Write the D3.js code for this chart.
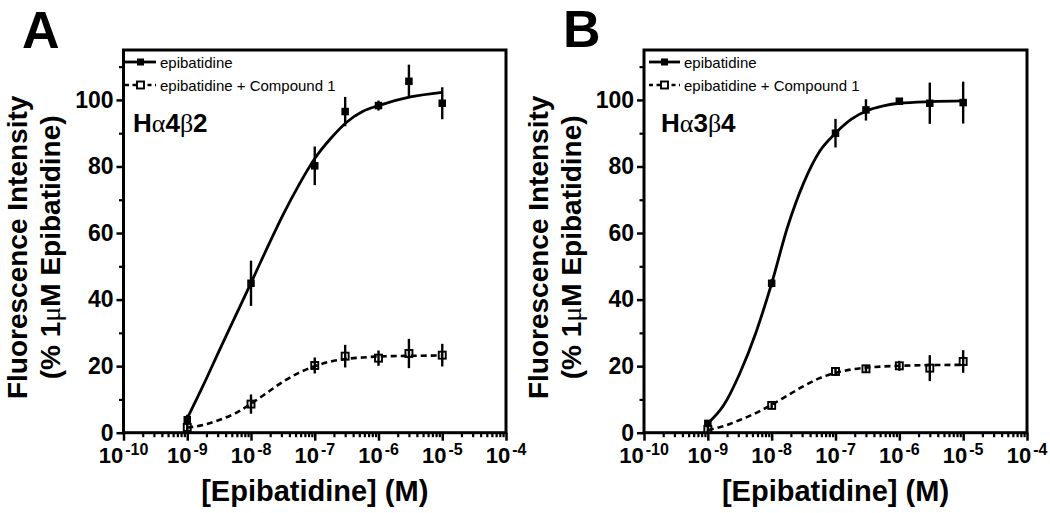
<!DOCTYPE html>
<html>
<head>
<meta charset="utf-8">
<script src="https://cdn.jsdelivr.net/npm/d3@7"></script>
<style>
  html, body { margin: 0; padding: 0; background: #fff; }
  svg { display: block; font-family: "Liberation Sans", Arial, sans-serif; }
</style>
</head>
<body>
<svg id="chart" width="1050" height="513"></svg>
<script>
// ---------------- DATA ----------------
const concentrations = [1e-9, 1e-8, 1e-7, 3e-7, 1e-6, 3e-6, 1e-5];

// Panel A (Hα4β2)
const aEpiMean = [3.9, 44.9, 80.2, 96.5, 98.3, 105.6, 99.0];
const aEpiErr  = [1.5, 6.8, 5.8, 4.4, 1.5, 5.0, 4.8];
const aCmpMean = [1.6, 8.6, 20.2, 23.0, 22.4, 23.8, 23.3];
const aCmpErr  = [1.0, 2.9, 2.4, 3.4, 2.3, 4.4, 3.4];

// Panel B (Hα3β4)
const bEpiMean = [2.8, 44.9, 90.0, 97.0, 99.6, 99.0, 99.2];
const bEpiErr  = [1.0, 1.2, 4.3, 3.2, 0.8, 6.2, 6.3];
const bCmpMean = [1.0, 8.2, 18.4, 19.2, 20.1, 19.4, 21.4];
const bCmpErr  = [0.8, 0.8, 1.2, 1.0, 1.5, 3.9, 3.4];

// Fitted curves at these log10 concentrations
const fitLogs  = [-9, -8.75, -8.5, -8.25, -8, -7.75, -7.5, -7.25, -7, -6.75, -6.5, -6.25, -6, -5.5, -5];
const aEpiFit  = [4.3, 14.2, 24.6, 34.8, 45.0, 55.4, 65.4, 74.4, 82.4, 88.4, 93.3, 96.5, 98.3, 100.9, 102.3];
const aCmpFit  = [1.5, 2.3, 3.8, 5.8, 8.7, 12.0, 15.3, 18.0, 20.0, 21.4, 22.2, 22.6, 22.9, 23.1, 23.2];
const bEpiFit  = [2.8, 8.3, 17.8, 29.9, 44.9, 61.9, 75.0, 84.5, 90.0, 94.2, 96.8, 98.2, 99.0, 99.5, 99.7];
const bCmpFit  = [0.8, 2.0, 3.8, 5.9, 8.4, 11.2, 14.0, 16.4, 18.0, 19.0, 19.6, 19.9, 20.1, 20.3, 20.4];

// Axis ticks
const xTickExponents = [-10, -9, -8, -7, -6, -5, -4];
const yMajorTicks = [0, 20, 40, 60, 80, 100];
const yMinorTicks = [10, 30, 50, 70, 90, 110];
const xDomain = [1e-10, 1e-4];
const yDomain = [0, 115];

// Text
const seriesNames = ["epibatidine", "epibatidine + Compound 1"];
const xTitle = "[Epibatidine] (M)";
const yTitle1 = "Fluorescence Intensity";
const yTitle2a = "(% 1", yTitle2mu = "μ", yTitle2b = "M Epibatidine)";

// ---------------- DRAW ----------------
const svg = d3.select("#chart");

const panels = [
  { letter: "A", letterX: 22, letterY: 47.5, left: 123.5, right: 506, top: 50, bottom: 432.7,
    rec: ["H", "α", "4", "β", "2"], recX: 133,
    epi: aEpiMean, epiErr: aEpiErr, cmp: aCmpMean, cmpErr: aCmpErr, epiFit: aEpiFit, cmpFit: aCmpFit,
    ytx1: 27, ytx2: 60, legendX: 125 },
  { letter: "B", letterX: 563, letterY: 47, left: 644, right: 1027, top: 50, bottom: 432.7,
    rec: ["H", "α", "3", "β", "4"], recX: 661,
    epi: bEpiMean, epiErr: bEpiErr, cmp: bCmpMean, cmpErr: bCmpErr, epiFit: bEpiFit, cmpFit: bCmpFit,
    ytx1: 548, ytx2: 581, legendX: 649 }
];

panels.forEach(p => {
  const g = svg.append("g");
  const x = d3.scaleLog().domain(xDomain).range([p.left, p.right]);
  const y = d3.scaleLinear().domain(yDomain).range([p.bottom, p.top]);

  // panel letter
  g.append("text").attr("x", p.letterX).attr("y", p.letterY)
    .attr("font-size", 52).attr("font-weight", "bold").text(p.letter);

  // x minor ticks
  const minors = [];
  for (let e = -10; e < -4; e++) for (let m = 2; m <= 9; m++) minors.push(m * Math.pow(10, e));
  const xMinorAxis = d3.axisBottom(x).tickValues(minors).tickSize(4.5).tickFormat("");
  const gxm = g.append("g").attr("transform", `translate(0,${p.bottom})`).call(xMinorAxis);
  gxm.select(".domain").remove();
  gxm.selectAll("line").attr("stroke", "#000").attr("stroke-width", 2.2);

  // x major ticks
  const xMajorAxis = d3.axisBottom(x).tickValues(xTickExponents.map(e => Math.pow(10, e))).tickSize(8).tickFormat("");
  const gx = g.append("g").attr("transform", `translate(0,${p.bottom})`).call(xMajorAxis);
  gx.select(".domain").remove();
  gx.selectAll("line").attr("stroke", "#000").attr("stroke-width", 2.5);

  // x tick labels with superscripts
  xTickExponents.forEach(e => {
    const t = g.append("text").attr("x", x(Math.pow(10, e))).attr("y", p.bottom + 30.5)
      .attr("text-anchor", "middle").attr("font-weight", "bold").attr("font-size", 22);
    t.append("tspan").text("10");
    t.append("tspan").attr("font-size", 16).attr("dy", -8.5).attr("dx", 2).text("-" + Math.abs(e));
  });

  // y minor ticks
  const yMinorAxis = d3.axisLeft(y).tickValues(yMinorTicks).tickSize(4.5).tickFormat("");
  const gym = g.append("g").attr("transform", `translate(${p.left},0)`).call(yMinorAxis);
  gym.select(".domain").remove();
  gym.selectAll("line").attr("stroke", "#000").attr("stroke-width", 2.2);

  // y major ticks
  const yAxis = d3.axisLeft(y).tickValues(yMajorTicks).tickSize(7).tickPadding(3).tickFormat(d3.format("d"));
  const gy = g.append("g").attr("transform", `translate(${p.left},0)`).call(yAxis);
  gy.select(".domain").remove();
  gy.selectAll("line").attr("stroke", "#000").attr("stroke-width", 2.5);
  gy.selectAll("text").attr("font-size", 23).attr("font-weight", "bold")
    .attr("font-family", "Liberation Sans, Arial, sans-serif").attr("fill", "#000");

  // frame
  g.append("rect").attr("x", p.left).attr("y", p.top)
    .attr("width", p.right - p.left).attr("height", p.bottom - p.top)
    .attr("fill", "none").attr("stroke", "#000").attr("stroke-width", 3);

  // axis titles
  g.append("text").attr("x", (p.left + p.right) / 2).attr("y", 501)
    .attr("text-anchor", "middle").attr("font-size", 29).attr("font-weight", "bold").text(xTitle);
  const cy = (p.top + p.bottom) / 2 + 6;
  g.append("text").attr("transform", `translate(${p.ytx1},${cy}) rotate(-90)`)
    .attr("text-anchor", "middle").attr("font-size", 28).attr("font-weight", "bold").text(yTitle1);
  const t2 = g.append("text").attr("transform", `translate(${p.ytx2},${cy}) rotate(-90)`)
    .attr("text-anchor", "middle").attr("font-size", 28).attr("font-weight", "bold");
  t2.append("tspan").text(yTitle2a);
  t2.append("tspan").attr("font-family", "Liberation Serif, serif").attr("font-weight", "normal").text(yTitle2mu);
  t2.append("tspan").text(yTitle2b);

  // receptor label
  const rt = g.append("text").attr("x", p.recX).attr("y", 132).attr("font-size", 26).attr("font-weight", "bold");
  p.rec.forEach((s, i) => {
    const ts = rt.append("tspan").text(s);
    if (i === 1 || i === 3) ts.attr("font-family", "Liberation Serif, serif").attr("font-weight", "normal");
  });

  // curves
  const line = d3.line().x(d => x(Math.pow(10, d[0]))).y(d => y(d[1])).curve(d3.curveMonotoneX);
  g.append("path").attr("d", line(fitLogs.map((l, i) => [l, p.epiFit[i]])))
    .attr("fill", "none").attr("stroke", "#000").attr("stroke-width", 2.8);
  g.append("path").attr("d", line(fitLogs.map((l, i) => [l, p.cmpFit[i]])))
    .attr("fill", "none").attr("stroke", "#000").attr("stroke-width", 2.6).attr("stroke-dasharray", "6,4");

  // error bars
  const drawErr = (mean, err) => {
    g.append("g").selectAll("line").data(concentrations).join("line")
      .attr("x1", d => x(d)).attr("x2", d => x(d))
      .attr("y1", (d, i) => y(mean[i] - err[i])).attr("y2", (d, i) => y(mean[i] + err[i]))
      .attr("stroke", "#000").attr("stroke-width", 2.4);
  };
  drawErr(p.epi, p.epiErr);
  drawErr(p.cmp, p.cmpErr);

  // markers
  const s = 7.5;
  g.append("g").selectAll("rect").data(concentrations).join("rect")
    .attr("x", d => x(d) - s / 2).attr("y", (d, i) => y(p.epi[i]) - s / 2)
    .attr("width", s).attr("height", s).attr("fill", "#000");
  const so = 7;
  g.append("g").selectAll("rect").data(concentrations).join("rect")
    .attr("x", d => x(d) - so / 2).attr("y", (d, i) => y(p.cmp[i]) - so / 2)
    .attr("width", so).attr("height", so).attr("fill", "none").attr("stroke", "#000").attr("stroke-width", 1.9);

  // legend
  const lx = p.legendX, ly1 = p.top + 12, ly2 = p.top + 35;
  g.append("line").attr("x1", lx).attr("x2", lx + 31).attr("y1", ly1).attr("y2", ly1)
    .attr("stroke", "#000").attr("stroke-width", 2.8);
  g.append("rect").attr("x", lx + 15.5 - 3.5).attr("y", ly1 - 3.5).attr("width", 7).attr("height", 7).attr("fill", "#000");
  g.append("text").attr("x", lx + 35).attr("y", ly1 + 5.5).attr("font-size", 15).text(seriesNames[0]);
  g.append("line").attr("x1", lx).attr("x2", lx + 31).attr("y1", ly2).attr("y2", ly2)
    .attr("stroke", "#000").attr("stroke-width", 2.6).attr("stroke-dasharray", "4,3.5");
  g.append("rect").attr("x", lx + 15.5 - 3.5).attr("y", ly2 - 3.5).attr("width", 7).attr("height", 7)
    .attr("fill", "#fff").attr("stroke", "#000").attr("stroke-width", 1.9);
  g.append("text").attr("x", lx + 35).attr("y", ly2 + 5.5).attr("font-size", 15).text(seriesNames[1]);
});
</script>
</body>
</html>
